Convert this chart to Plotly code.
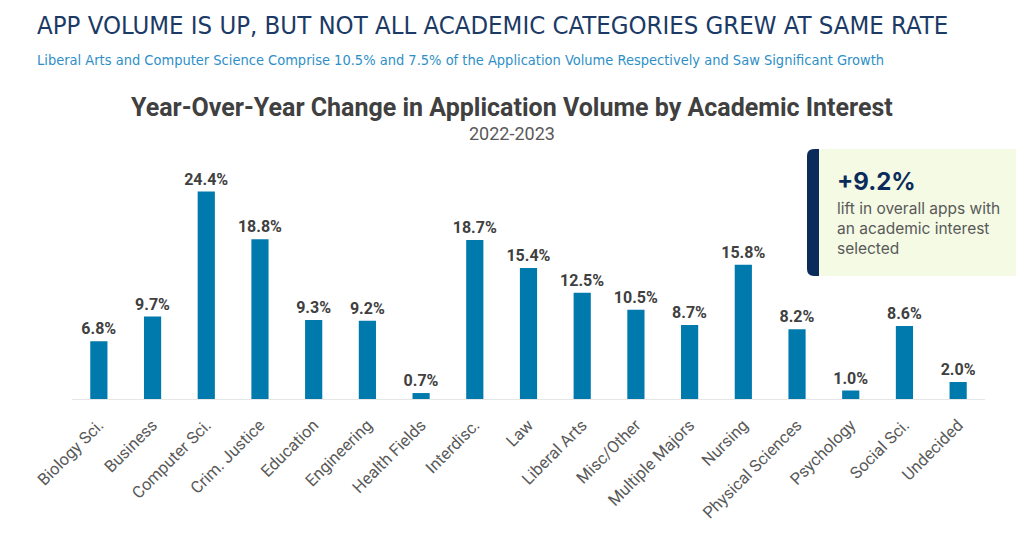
import plotly.graph_objects as go

categories = ["Biology Sci.", "Business", "Computer Sci.", "Crim. Justice", "Education",
              "Engineering", "Health Fields", "Interdisc.", "Law", "Liberal Arts",
              "Misc/Other", "Multiple Majors", "Nursing", "Physical Sciences",
              "Psychology", "Social Sci.", "Undecided"]
yoy_change = [6.8, 9.7, 24.4, 18.8, 9.3, 9.2, 0.7, 18.7, 15.4, 12.5,
              10.5, 8.7, 15.8, 8.2, 1.0, 8.6, 2.0]
bar_labels = [f"{v:.1f}%" for v in yoy_change]

overall_lift = "+9.2%"
lift_note = ["lift in overall apps with", "an academic interest", "selected"]

# page coordinates (the html body adds an 8px offset)
OFF = 8
PL, PR, PT, PB = 72, 985, 161, 399


def px(x):
    return (x - PL) / (PR - PL)


def py(y):
    return (PB - y) / (PB - PT)


fig = go.Figure()
fig.add_trace(go.Bar(
    x=categories, y=yoy_change,
    marker=dict(color="#0079AD", line=dict(width=0)),
    text=bar_labels, textposition="outside", cliponaxis=False,
    constraintext="none",
    textfont=dict(family="Roboto", size=16, color="#404040", weight="bold"),
    hoverinfo="skip",
))

fig.update_layout(
    width=1024, height=549,
    margin=dict(l=PL - OFF, r=1024 - PR + OFF, t=PT - OFF, b=549 - PB + OFF),
    paper_bgcolor="white", plot_bgcolor="white",
    showlegend=False,
    bargap=0.68,
    xaxis=dict(
        tickangle=-45, automargin=False,
        tickfont=dict(family="Roboto", size=16.5, color="#595959"),
        showline=True, linecolor="#E6E6E6", linewidth=1,
        ticks="outside", ticklen=9, tickcolor="rgba(0,0,0,0)",
        showgrid=False,
    ),
    yaxis=dict(range=[0, 28], visible=False, automargin=False),
)

# page heading
fig.add_annotation(
    text="APP VOLUME IS UP, BUT NOT ALL ACADEMIC CATEGORIES GREW AT SAME RATE",
    xref="paper", yref="paper", x=px(35), y=py(8), xanchor="left", yanchor="top",
    showarrow=False,
    font=dict(family="DejaVu Sans Condensed", size=25.5, color="#1B3A66"),
)
fig.add_annotation(
    text="Liberal Arts and Computer Science Comprise 10.5% and 7.5% of the Application Volume Respectively and Saw Significant Growth",
    xref="paper", yref="paper", x=px(35), y=py(50), xanchor="left", yanchor="top",
    showarrow=False,
    font=dict(family="DejaVu Sans Condensed", size=14.5, color="#2E8FC7"),
)

# chart title
fig.add_annotation(
    text="<b>Year-Over-Year Change in Application Volume by Academic Interest</b>",
    xref="paper", yref="paper", x=px(512), y=py(91), xanchor="center", yanchor="top",
    showarrow=False,
    font=dict(family="Roboto", size=25, color="#404040"),
)
fig.add_annotation(
    text="2022-2023",
    xref="paper", yref="paper", x=px(512), y=py(121), xanchor="center", yanchor="top",
    showarrow=False,
    font=dict(family="Roboto", size=18, color="#595959"),
)

# callout box
bx0, bx1, by0, by1 = px(807), px(819), py(276), py(149)
rx, ry = 7 / (PR - PL), 7 / (PB - PT)
fig.add_shape(type="rect", xref="paper", yref="paper",
              x0=px(815), x1=px(1040), y0=by0, y1=by1,
              fillcolor="#F4FAE4", line=dict(width=0), layer="below")
fig.add_shape(type="path", xref="paper", yref="paper",
              path=(f"M {bx1},{by1} L {bx0 + rx},{by1} Q {bx0},{by1} {bx0},{by1 - ry} "
                    f"L {bx0},{by0 + ry} Q {bx0},{by0} {bx0 + rx},{by0} L {bx1},{by0} Z"),
              fillcolor="#0B2C5A", line=dict(width=0))
fig.add_annotation(
    text="<b>" + overall_lift + "</b>",
    xref="paper", yref="paper", x=px(835), y=py(165),
    xanchor="left", yanchor="top", showarrow=False,
    font=dict(family="Inter", size=24, color="#0B2C5A", weight=900),
)
fig.add_annotation(
    text="<br>".join(lift_note),
    xref="paper", yref="paper", x=px(835), y=py(197),
    xanchor="left", yanchor="top", align="left", showarrow=False,
    font=dict(family="Inter", size=15.5, color="#595959"),
)

fig.write_html("out.html")
